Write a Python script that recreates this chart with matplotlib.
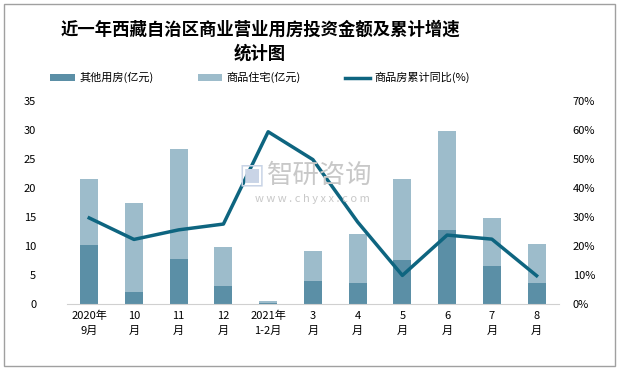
import numpy as np
import matplotlib.pyplot as plt
from matplotlib.patches import Rectangle
from matplotlib.ticker import FuncFormatter

plt.rcParams['font.family'] = ['Noto Sans CJK SC', 'DejaVu Sans']

# Data
labels = ['2020年\n9月', '10\n月', '11\n月', '12\n月', '2021年\n1-2月',
          '3\n月', '4\n月', '5\n月', '6\n月', '7\n月', '8\n月']
other = [10.2, 2.1, 7.8, 3.1, 0.2, 4.0, 3.6, 7.6, 12.8, 6.6, 3.6]
total = [21.5, 17.4, 26.8, 9.9, 0.5, 9.2, 12.1, 21.6, 29.9, 14.9, 10.4]
residential = [t - o for t, o in zip(total, other)]
growth = [29.7, 22.3, 25.6, 27.6, 59.4, 49.8, 28.3, 9.9, 23.8, 22.4, 9.8]

c_dark = '#5b8fa6'
c_light = '#9dbccb'
c_line = '#0e6580'

fig = plt.figure(figsize=(6.19, 3.70), dpi=100)
fig.patches.append(Rectangle((0.007, 0.011), 0.986, 0.978, transform=fig.transFigure,
                             fill=False, edgecolor='#a0a0a0', linewidth=1.0))

# watermark (behind the plot)
fig.text(0.432, 0.525, '智研咨询', fontsize=19, color='#c8c8c8', ha='left', va='center')
fig.text(0.386, 0.528, '▣', fontsize=20, color='#c9d4e6', ha='left', va='center',
         family=['DejaVu Sans'])
fig.text(0.505, 0.463, 'w w w . c h y x x . c o m', fontsize=8, color='#c8c8c8',
         ha='center', va='center')

ax = fig.add_axes([0.108, 0.178, 0.795, 0.549])
ax.patch.set_alpha(0)
x = np.arange(len(labels))
ax.bar(x, other, width=0.4, color=c_dark, label='其他用房(亿元)', zorder=2)
ax.bar(x, residential, width=0.4, bottom=other, color=c_light, label='商品住宅(亿元)', zorder=2)
ax.set_ylim(0, 35)
ax.set_yticks(range(0, 36, 5))
ax.set_xlim(-0.5, len(labels) - 0.5)
ax.set_xticks(x)
ax.set_xticklabels(labels, fontsize=8, linespacing=1.6)
for s in ['top', 'left', 'right']:
    ax.spines[s].set_visible(False)
ax.spines['bottom'].set_color('#d0d0d0')
ax.tick_params(axis='both', length=0, labelsize=8, pad=5)
ax.tick_params(axis='y', pad=22)

ax2 = ax.twinx()
ax2.plot(x, growth, color=c_line, linewidth=2.5, label='商品房累计同比(%)', zorder=3)
ax2.set_ylim(0, 70)
ax2.set_yticks(range(0, 71, 10))
ax2.yaxis.set_major_formatter(FuncFormatter(lambda v, p: f'{v:.0f}%'))
for s in ['top', 'left', 'right', 'bottom']:
    ax2.spines[s].set_visible(False)
ax2.tick_params(axis='y', length=0, labelsize=8, pad=10)

fig.text(0.42, 0.92, '近一年西藏自治区商业营业用房投资金额及累计增速',
         fontsize=12.5, fontweight='bold', ha='center', va='center')
fig.text(0.42, 0.855, '统计图', fontsize=12.5, fontweight='bold', ha='center', va='center')

h1, l1 = ax.get_legend_handles_labels()
h2, l2 = ax2.get_legend_handles_labels()
fig.legend(h1 + h2, l1 + l2, loc='center', bbox_to_anchor=(0.42, 0.79), ncol=3,
           frameon=False, fontsize=8, handlelength=2.2, handleheight=0.6,
           columnspacing=4.0, handletextpad=0.4)

fig.savefig('out.png', dpi=100)
